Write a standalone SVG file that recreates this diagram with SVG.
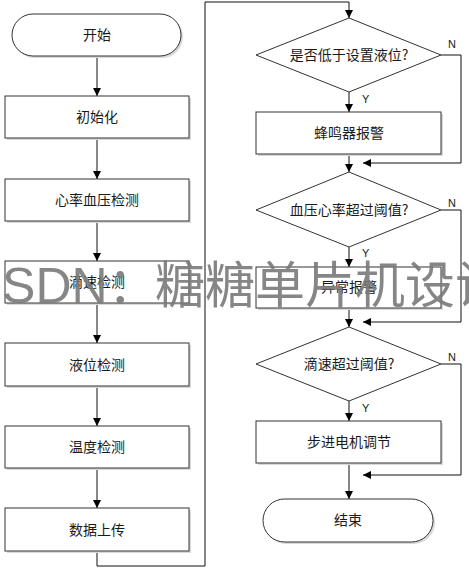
<svg xmlns="http://www.w3.org/2000/svg" width="469" height="569" viewBox="0 0 469 569">
<defs>
<marker id="arr" viewBox="0 0 10 10" refX="10" refY="5" markerWidth="8" markerHeight="8" markerUnits="userSpaceOnUse" orient="auto">
<path d="M0,0 L10,5 L0,10 Z" fill="#000"/>
</marker>
<style>
.box{fill:#fff;stroke:#333;stroke-width:1}
.sh{fill:#d9d9d9;stroke:none}
.t{font-family:"Noto Sans CJK SC","Noto Sans",sans-serif;font-size:14px;fill:#1a1a1a;text-anchor:middle}
.yn{font-family:"Liberation Sans",Arial,sans-serif;font-size:11px;fill:#1a1a1a}
.c{fill:none;stroke:#111;stroke-width:1}
.ca{fill:none;stroke:#111;stroke-width:1;marker-end:url(#arr)}
.wm{font-family:"Liberation Sans","Noto Sans CJK SC",sans-serif;font-size:50px;fill:#7a7a7a;opacity:0.9}
</style>
</defs>
<rect width="469" height="569" fill="#fff"/>
<g id="connectors">
<line class="ca" x1="97" y1="56" x2="97" y2="96"/>
<line class="ca" x1="97" y1="138" x2="97" y2="179"/>
<line class="ca" x1="97" y1="221" x2="97" y2="261"/>
<line class="ca" x1="97" y1="303" x2="97" y2="343"/>
<line class="ca" x1="97" y1="386" x2="97" y2="426"/>
<line class="ca" x1="97" y1="468" x2="97" y2="508"/>
<polyline class="ca" points="97,551 97,566 205,566 205,2 349,2 349,18"/>
<line class="ca" x1="349" y1="92" x2="349" y2="112"/>
<polyline class="ca" points="441,55 461,55 461,163 363,163"/>
<line class="ca" x1="349" y1="154" x2="349" y2="172"/>
<line class="ca" x1="349" y1="247" x2="349" y2="267"/>
<polyline class="ca" points="441,210 461,210 461,322 363,322"/>
<line class="ca" x1="349" y1="308" x2="349" y2="327"/>
<line class="ca" x1="349" y1="401" x2="349" y2="421"/>
<polyline class="ca" points="441,364 461,364 461,475 363,475"/>
<line class="ca" x1="349" y1="463" x2="349" y2="499"/>
<text class="yn" x="362" y="103">Y</text>
<text class="yn" x="448" y="48">N</text>
<text class="yn" x="362" y="257">Y</text>
<text class="yn" x="448" y="207">N</text>
<text class="yn" x="362" y="412">Y</text>
<text class="yn" x="448" y="361">N</text>
</g>
<g id="start">
<rect class="sh" x="14" y="16" width="169" height="42" rx="21"/>
<rect class="box" x="12" y="14" width="169" height="42" rx="21"/>
<text class="t" x="97" y="40">开始</text>
</g>
<g id="init">
<rect class="sh" x="7" y="98" width="184" height="42"/>
<rect class="box" x="5" y="96" width="184" height="42"/>
<text class="t" x="97" y="122">初始化</text>
</g>
<g id="hr">
<rect class="sh" x="7" y="181" width="184" height="42"/>
<rect class="box" x="5" y="179" width="184" height="42"/>
<text class="t" x="97" y="205">心率血压检测</text>
</g>
<g id="drip">
<rect class="sh" x="7" y="263" width="184" height="42"/>
<rect class="box" x="5" y="261" width="184" height="42"/>
<text class="t" x="97" y="287">滴速检测</text>
</g>
<g id="level">
<rect class="sh" x="7" y="345" width="184" height="43"/>
<rect class="box" x="5" y="343" width="184" height="43"/>
<text class="t" x="97" y="370">液位检测</text>
</g>
<g id="temp">
<rect class="sh" x="7" y="428" width="184" height="42"/>
<rect class="box" x="5" y="426" width="184" height="42"/>
<text class="t" x="97" y="452">温度检测</text>
</g>
<g id="upload">
<rect class="sh" x="7" y="510" width="184" height="43"/>
<rect class="box" x="5" y="508" width="184" height="43"/>
<text class="t" x="97" y="535">数据上传</text>
</g>
<g id="d1">
<polygon class="box" points="349,18 441,55 349,92 256,55"/>
<text class="t" x="349" y="60">是否低于设置液位?</text>
</g>
<g id="buzzer">
<rect class="sh" x="258" y="114" width="185" height="42"/>
<rect class="box" x="256" y="112" width="185" height="42"/>
<text class="t" x="349" y="138">蜂鸣器报警</text>
</g>
<g id="d2">
<polygon class="box" points="349,172 441,210 349,247 256,210"/>
<text class="t" x="349" y="215">血压心率超过阈值?</text>
</g>
<g id="alarm">
<rect class="sh" x="258" y="269" width="185" height="41"/>
<rect class="box" x="256" y="267" width="185" height="41"/>
<text class="t" x="349" y="292">异常报警</text>
</g>
<g id="d3">
<polygon class="box" points="349,327 441,364 349,401 256,364"/>
<text class="t" x="349" y="369">滴速超过阈值?</text>
</g>
<g id="motor">
<rect class="sh" x="258" y="423" width="185" height="42"/>
<rect class="box" x="256" y="421" width="185" height="42"/>
<text class="t" x="349" y="447">步进电机调节</text>
</g>
<g id="end">
<rect class="sh" x="265" y="501" width="170" height="43" rx="21.5"/>
<rect class="box" x="263" y="499" width="170" height="43" rx="21.5"/>
<text class="t" x="348" y="525">结束</text>
</g>
<text class="wm" y="303"><tspan x="-34">CSDN：</tspan><tspan x="155">糖糖单片机设计</tspan></text>
</svg>
